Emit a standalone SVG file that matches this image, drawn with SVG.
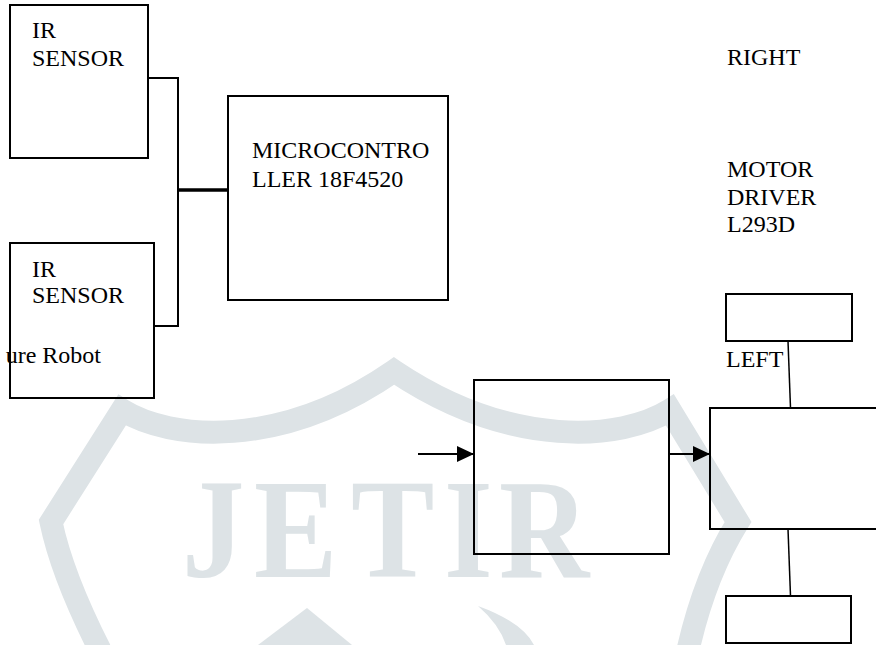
<svg xmlns="http://www.w3.org/2000/svg" width="876" height="645" viewBox="0 0 876 645">
<defs>
<style>
.wm{fill:none;stroke:#dde3e6;stroke-width:23;stroke-linejoin:miter}
.wmf{fill:#dde3e6}
.box{fill:none;stroke:#000;stroke-width:2}
.ln{fill:none;stroke:#000;stroke-width:2}
.thin{fill:none;stroke:#000;stroke-width:1.5}
.t{font-family:"Liberation Serif","Times New Roman",serif;font-size:24px;fill:#000}
</style>
<marker id="ah" markerUnits="userSpaceOnUse" markerWidth="18" markerHeight="16" refX="17" refY="8" orient="auto">
<path d="M0,0 L17,8 L0,16 Z" fill="#000"/>
</marker>
</defs>
<rect width="876" height="645" fill="#fff"/>
<g id="watermark">
<path class="wm" d="M100,650 Q62,575 51,522 L122,410 C170,440 280,450 394,371 C512,450 622,440 670,410 L738,522 Q705,575 688,650"/>
<text transform="scale(0.88,1)" x="206.8 288.6 398.9 504.5 567" y="577" font-family="Liberation Serif,serif" font-weight="bold" font-size="142" fill="#dde3e6">JETIR</text>
<polygon class="wmf" points="258,645 307,608 352,645"/>
<path class="wmf" d="M478,606 Q522,622 534,645 L506,645 Q499,624 478,606 Z"/>
</g>
<g id="connectors">
<polyline class="ln" points="148,78 178,78 178,326 154,326"/>
<line x1="178" y1="190" x2="228" y2="190" stroke="#000" stroke-width="3.5"/>
<line class="ln" x1="418" y1="454" x2="474" y2="454" marker-end="url(#ah)"/>
<line class="ln" x1="669" y1="454" x2="710" y2="454" marker-end="url(#ah)"/>
<line class="thin" x1="788" y1="341" x2="790.5" y2="408"/>
<line class="thin" x1="788" y1="529" x2="790.5" y2="596"/>
</g>
<g id="ir1">
<rect class="box" x="10" y="5" width="138" height="153"/>
<text class="t" x="32" y="38">IR</text>
<text class="t" x="32" y="66">SENSOR</text>
</g>
<g id="ir2">
<rect class="box" x="10" y="243" width="144" height="155"/>
<text class="t" x="32" y="277">IR</text>
<text class="t" x="32" y="303">SENSOR</text>
</g>
<g id="caption">
<text class="t" x="101" y="363" text-anchor="end">ure Robot</text>
</g>
<g id="mcu">
<rect class="box" x="228" y="96" width="220" height="204"/>
<text class="t" x="252" y="158">MICROCONTRO</text>
<text class="t" x="252" y="187">LLER 18F4520</text>
</g>
<g id="labels">
<text class="t" x="727" y="65">RIGHT</text>
<text class="t" x="727" y="177">MOTOR</text>
<text class="t" x="727" y="204.5">DRIVER</text>
<text class="t" x="727" y="232">L293D</text>
<text class="t" x="726" y="367">LEFT</text>
</g>
<g id="motor-top">
<rect class="box" x="726" y="294" width="126" height="47"/>
</g>
<g id="driver-box">
<rect class="box" x="474" y="380" width="195" height="174"/>
</g>
<g id="right-box">
<rect class="box" x="710" y="408" width="180" height="121"/>
</g>
<g id="motor-bottom">
<rect class="box" x="726" y="596" width="125" height="47"/>
</g>
</svg>
